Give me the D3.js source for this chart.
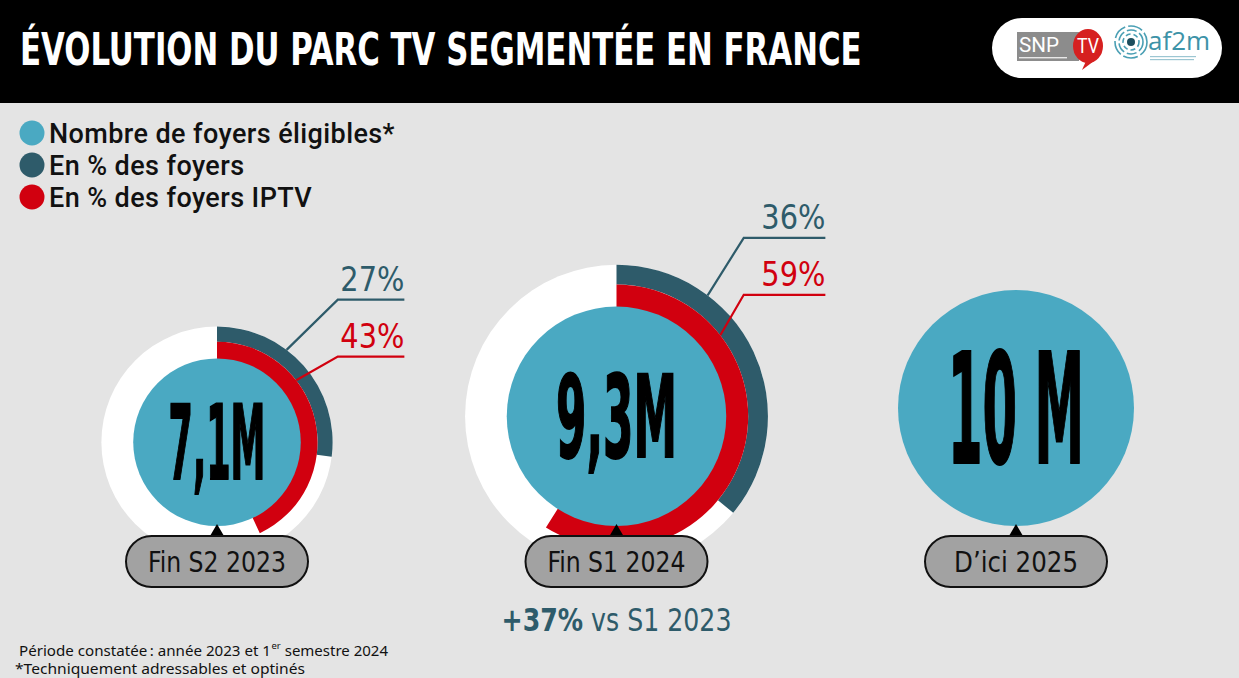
<!DOCTYPE html>
<html>
<head>
<meta charset="utf-8">
<script src="https://cdn.jsdelivr.net/npm/d3@7"></script>
<style>
  body { margin: 0; background: #e4e4e4; }
  svg { display: block; }
</style>
</head>
<body>
<script>
// ---- data ----
var periods = ["Fin S2 2023", "Fin S1 2024", "D\u2019ici 2025"];
var foyersMillions = [7.1, 9.3, 10];
var foyersLabels = ["7,1M", "9,3M", "10 M"];
var pctFoyers = [27, 36, null];       // dark ring
var pctFoyersIptv = [43, 59, null];   // red ring
var legendLabels = ["Nombre de foyers \u00e9ligibles*", "En % des foyers", "En % des foyers IPTV"];

// ---- layout / style ----
var width = 1239, height = 678;
var lightTeal = "#4aa9c2", darkTeal = "#2e5b6a", red = "#d1000f", pillGrey = "#a2a2a2";
var narrow = "'Liberation Sans Narrow', 'DejaVu Sans Condensed', sans-serif";
var baseLine = 526;              // circles sit on this line
var bigSizes = [103, 114, 154];  // font size of the big numbers
var bigWidths = [97, 121, 136];

var svg = d3.select("body").append("svg")
  .attr("width", width)
  .attr("height", height);

// squeeze a text horizontally so it is w pixels wide, keeping its anchor at (x, y)
function fitWidth(sel, x, y, w) {
  var natural = sel.node().getComputedTextLength();
  sel.attr("x", 0).attr("y", 0)
    .attr("transform", "translate(" + x + "," + y + ") scale(" + (w / natural) + ",1)");
  return sel;
}

svg.append("rect").attr("width", width).attr("height", height).attr("fill", "#e4e4e4");

// header bar
svg.append("rect").attr("width", width).attr("height", 103).attr("fill", "#000");
var title = svg.append("text")
  .attr("fill", "#fff")
  .style("font-family", narrow).style("font-weight", 700).style("font-size", "45px")
  .text("\u00c9VOLUTION DU PARC TV SEGMENT\u00c9E EN FRANCE");
fitWidth(title, 20, 65, 842);

// logo pill
var logo = svg.append("g");
logo.append("rect").attr("x", 992).attr("y", 18).attr("width", 230).attr("height", 60).attr("rx", 30).attr("fill", "#fff");
logo.append("rect").attr("x", 1017).attr("y", 32).attr("width", 62).attr("height", 29).attr("fill", "#8c8c8c");
logo.append("text").attr("x", 1019).attr("y", 52).attr("fill", "#fff")
  .style("font-family", "Roboto, sans-serif").style("font-size", "20px")
  .attr("textLength", 40).attr("lengthAdjust", "spacingAndGlyphs").text("SNP");
logo.append("ellipse").attr("cx", 1088).attr("cy", 46).attr("rx", 15).attr("ry", 17).attr("fill", "#d62020");
logo.append("path").attr("d", "M1086,61 L1082,70 L1094,61 Z").attr("fill", "#d62020");
logo.append("text").attr("x", 1088).attr("y", 53).attr("text-anchor", "middle").attr("fill", "#fff")
  .style("font-family", "Roboto, sans-serif").style("font-size", "20px")
  .attr("textLength", 22).attr("lengthAdjust", "spacingAndGlyphs").text("TV");
// illegible small print under the logos, drawn as faint strokes
logo.append("rect").attr("x", 1019).attr("y", 57).attr("width", 48).attr("height", 1.4).attr("fill", "#e8e8e8");
logo.append("rect").attr("x", 1150).attr("y", 56).attr("width", 46).attr("height", 1.2).attr("fill", "#9cc6d2");
logo.append("rect").attr("x", 1150).attr("y", 59).attr("width", 44).attr("height", 1.2).attr("fill", "#9cc6d2");
[4, 8, 12, 16].forEach(function(rr, i) {
  logo.append("circle").attr("cx", 1131).attr("cy", 42).attr("r", rr)
    .attr("fill", i === 0 ? "#1d4e5e" : "none")
    .attr("stroke", "#4a9fb4").attr("stroke-width", i === 0 ? 0 : 1.6)
    .attr("stroke-dasharray", i === 0 ? null : (i * 5) + ",3");
});
logo.append("text").attr("x", 1148).attr("y", 50).attr("fill", "#3d93a8")
  .style("font-family", "'Open Sans', sans-serif").style("font-size", "26px").text("af2m");

// legend
var legendColors = [lightTeal, darkTeal, red];
var legend = svg.selectAll("g.legend").data(legendLabels).enter().append("g")
  .attr("class", "legend")
  .attr("transform", function(d, i) { return "translate(0," + (143 + i * 32) + ")"; });
legend.append("circle").attr("cx", 32).attr("cy", -10).attr("r", 12.5)
  .attr("fill", function(d, i) { return legendColors[i]; });
legend.append("text").attr("x", 49).attr("y", 0).attr("fill", "#111")
  .style("font-family", "Roboto, sans-serif").style("font-weight", 500).style("font-size", "27px")
  .style("letter-spacing", "0.4px")
  .text(function(d) { return d; });

// scales
var x = d3.scalePoint().domain(periods).range([217, 1016]);
var r = d3.scaleLinear().domain([0, 10]).range([0, 118]);
var angle = d3.scaleLinear().domain([0, 100]).range([0, 2 * Math.PI]);
var arc = d3.arc();

var charts = svg.selectAll("g.chart").data(periods).enter().append("g")
  .attr("class", "chart")
  .attr("transform", function(d, i) {
    return "translate(" + x(d) + "," + (baseLine - r(foyersMillions[i])) + ")";
  });

charts.each(function(d, i) {
  var g = d3.select(this);
  var inner = r(foyersMillions[i]);
  var redOuter = inner * 1.2;
  var outer = inner * 1.38;
  var hasRings = pctFoyers[i] !== null;

  if (hasRings) {
    g.append("circle").attr("r", outer).attr("fill", "#fff");
    g.append("path").attr("fill", darkTeal)
      .attr("d", arc({innerRadius: redOuter, outerRadius: outer, startAngle: 0, endAngle: angle(pctFoyers[i])}));
    g.append("path").attr("fill", red)
      .attr("d", arc({innerRadius: inner - 1, outerRadius: redOuter, startAngle: 0, endAngle: angle(pctFoyersIptv[i])}));
  }
  g.append("circle").attr("r", inner).attr("fill", lightTeal);

  // big number, squeezed horizontally to the condensed width of the original
  var big = g.append("text")
    .attr("text-anchor", "middle")
    .attr("fill", "#000").attr("stroke", "#000").attr("stroke-width", 2)
    .style("font-family", narrow).style("font-weight", 700).style("font-size", bigSizes[i] + "px")
    .text(foyersLabels[i]);
  fitWidth(big, 0, bigSizes[i] * 0.36, bigWidths[i]);

  if (hasRings) {
    // leader lines and percentage labels
    var labelY = -outer - 27;
    var elbowX = 100 + outer * 0.18;
    var endX = 118 + outer * 0.6;
    var leaders = [
      {v: pctFoyers[i], color: darkTeal, rad: outer, a: 37, y: labelY},
      {v: pctFoyersIptv[i], color: red, rad: redOuter, a: 52, y: labelY + 57}
    ];
    leaders.forEach(function(l) {
      var t = l.a * Math.PI / 180;
      var sx = Math.sin(t) * l.rad, sy = -Math.cos(t) * l.rad;
      g.append("path")
        .attr("d", "M" + sx + "," + sy + "L" + elbowX + "," + l.y + "L" + endX + "," + l.y)
        .attr("fill", "none").attr("stroke", l.color).attr("stroke-width", 2.2);
      g.append("text")
        .attr("x", endX).attr("y", l.y - 9)
        .attr("text-anchor", "end").attr("fill", l.color)
        .style("font-family", narrow).style("font-size", "33px")
        .attr("textLength", 64).attr("lengthAdjust", "spacingAndGlyphs")
        .text(l.v + "%");
    });
  }
});

// period pills
var pills = svg.selectAll("g.pill").data(periods).enter().append("g")
  .attr("class", "pill")
  .attr("transform", function(d) { return "translate(" + x(d) + ",0)"; });
pills.append("path").attr("d", "M-7,536 L0,524 L7,536 Z").attr("fill", "#000");
pills.append("rect").attr("x", -91).attr("y", 536).attr("width", 182).attr("height", 51).attr("rx", 25.5)
  .attr("fill", pillGrey).attr("stroke", "#111").attr("stroke-width", 2);
pills.append("text").attr("x", 0).attr("y", 572).attr("text-anchor", "middle").attr("fill", "#111")
  .style("font-family", narrow).style("font-size", "28px")
  .attr("textLength", function(d, i) { return i === 2 ? 124 : 138; }).attr("lengthAdjust", "spacingAndGlyphs")
  .text(function(d) { return d; });

// growth note under the middle chart
var growth = svg.append("text").attr("text-anchor", "middle")
  .attr("fill", darkTeal).style("font-family", narrow).style("font-size", "32px");
growth.append("tspan").style("font-weight", 700).text("+37%");
growth.append("tspan").text(" vs S1 2023");
fitWidth(growth, x(periods[1]), 631, 230);

// footnotes (superscript as its own text, placed after the first part)
var footFont = "'Noto Sans', sans-serif";
svg.append("text").attr("x", 19).attr("y", 656).attr("fill", "#111")
  .style("font-family", footFont).style("font-size", "15px")
  .attr("textLength", 252).attr("lengthAdjust", "spacingAndGlyphs")
  .text("P\u00e9riode constat\u00e9e\u202f: ann\u00e9e 2023 et 1");
var supX = 19 + 252 + 0.5;
var sup = svg.append("text").attr("x", supX).attr("y", 649).attr("fill", "#111")
  .style("font-family", footFont).style("font-size", "9.5px").text("er");
svg.append("text").attr("x", supX + sup.node().getComputedTextLength()).attr("y", 656).attr("fill", "#111")
  .style("font-family", footFont).style("font-size", "15px")
  .text("\u00a0semestre 2024");
svg.append("text").attr("x", 15).attr("y", 674).attr("fill", "#111")
  .style("font-family", footFont).style("font-size", "15px")
  .attr("textLength", 290).attr("lengthAdjust", "spacingAndGlyphs")
  .text("*Techniquement adressables et optin\u00e9s");
</script>
</body>
</html>
